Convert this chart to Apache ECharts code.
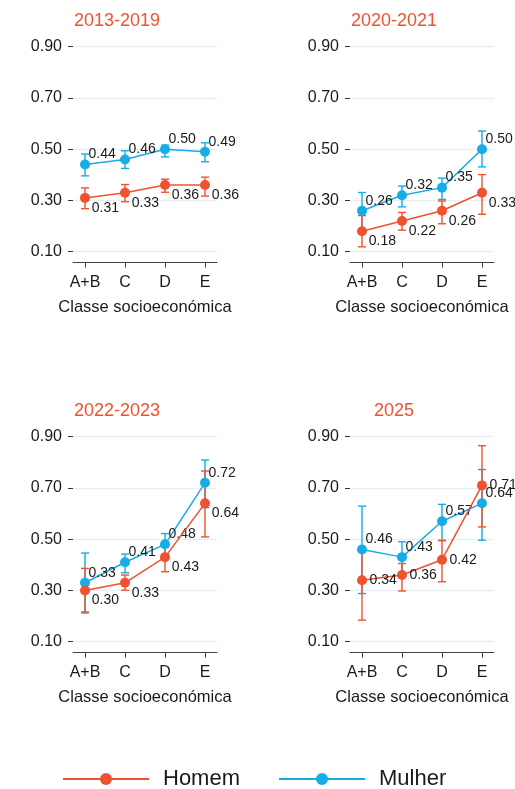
<!DOCTYPE html>
<html>
<head>
<meta charset="utf-8">
<script src="https://cdn.jsdelivr.net/npm/echarts@6/dist/echarts.min.js"></script>
<style>
html,body{margin:0;padding:0;background:#fff;}
#chart{width:515px;height:789px;}
</style>
</head>
<body>
<div id="chart"></div>
<script>
// ---- data ----
const categories = ['A+B', 'C', 'D', 'E'];
const yTicks = [0.10, 0.30, 0.50, 0.70, 0.90];
const panelTitles = ['2013-2019', '2020-2021', '2022-2023', '2025'];
const seriesNames = ['Homem', 'Mulher'];
const xAxisTitle = 'Classe socioeconómica';

// 2013-2019
const homem1   = [0.31, 0.33, 0.36, 0.36];
const homem1Lo = [0.268, 0.295, 0.332, 0.317];
const homem1Hi = [0.349, 0.362, 0.383, 0.391];
const mulher1   = [0.44, 0.46, 0.50, 0.49];
const mulher1Lo = [0.396, 0.425, 0.470, 0.451];
const mulher1Hi = [0.481, 0.494, 0.516, 0.525];
// 2020-2021
const homem2   = [0.18, 0.22, 0.26, 0.33];
const homem2Lo = [0.119, 0.184, 0.209, 0.246];
const homem2Hi = [0.241, 0.253, 0.298, 0.401];
const mulher2   = [0.26, 0.32, 0.35, 0.50];
const mulher2Lo = [0.175, 0.275, 0.304, 0.431];
const mulher2Hi = [0.331, 0.356, 0.387, 0.571];
// 2022-2023
const homem3   = [0.30, 0.33, 0.43, 0.64];
const homem3Lo = [0.216, 0.301, 0.373, 0.509];
const homem3Hi = [0.386, 0.360, 0.470, 0.766];
const mulher3   = [0.33, 0.41, 0.48, 0.72];
const mulher3Lo = [0.212, 0.369, 0.431, 0.623];
const mulher3Hi = [0.446, 0.442, 0.522, 0.809];
// 2025
const homem4   = [0.34, 0.36, 0.42, 0.71];
const homem4Lo = [0.184, 0.298, 0.334, 0.548];
const homem4Hi = [0.451, 0.405, 0.494, 0.865];
const mulher4   = [0.46, 0.43, 0.57, 0.64];
const mulher4Lo = [0.288, 0.366, 0.496, 0.496];
const mulher4Hi = [0.629, 0.490, 0.636, 0.772];

const panels = [
  {h: homem1, hLo: homem1Lo, hHi: homem1Hi, m: mulher1, mLo: mulher1Lo, mHi: mulher1Hi},
  {h: homem2, hLo: homem2Lo, hHi: homem2Hi, m: mulher2, mLo: mulher2Lo, mHi: mulher2Hi},
  {h: homem3, hLo: homem3Lo, hHi: homem3Hi, m: mulher3, mLo: mulher3Lo, mHi: mulher3Hi},
  {h: homem4, hLo: homem4Lo, hHi: homem4Hi, m: mulher4, mLo: mulher4Lo, mHi: mulher4Hi}
];

// ---- styling ----
const RED = '#F0522F';
const BLUE = '#16ACE6';
const FONT = '"Liberation Sans", Arial, Helvetica, sans-serif';
const TXT = '#1a1a1a';

const chart = echarts.init(document.getElementById('chart'), null, {renderer: 'canvas'});

const grids = [], xAxes = [], yAxes = [], series = [], graphics = [];

function errRender(color) {
  return function (params, api) {
    const x = api.value(0);
    const top = api.coord([x, api.value(2)]);
    const bot = api.coord([x, api.value(1)]);
    const hw = 4;
    const st = {stroke: color, lineWidth: 1.4};
    return {
      type: 'group',
      children: [
        {type: 'line', shape: {x1: top[0], y1: top[1], x2: bot[0], y2: bot[1]}, style: st},
        {type: 'line', shape: {x1: top[0] - hw, y1: top[1], x2: top[0] + hw, y2: top[1]}, style: st},
        {type: 'line', shape: {x1: bot[0] - hw, y1: bot[1], x2: bot[0] + hw, y2: bot[1]}, style: st}
      ]
    };
  };
}

panels.forEach((p, k) => {
  const col = k % 2, row = Math.floor(k / 2);
  const left = 73 + col * 277;
  const top = 46.7 + row * 390;
  grids.push({left: left, top: top, width: 144, height: 205, containLabel: false});
  xAxes.push({
    type: 'value', gridIndex: k, min: 0.7, max: 4.3, offset: 11,
    axisLine: {show: true, lineStyle: {color: '#444', width: 1}},
    axisTick: {show: true, length: 5, lineStyle: {color: '#444'}, customValues: categories.map((c, i) => i + 1)},
    axisLabel: {
      show: true, margin: 12, fontSize: 16, color: TXT, fontFamily: FONT,
      customValues: categories.map((c, i) => i + 1),
      formatter: v => categories[Math.round(v) - 1] || ''
    },
    splitLine: {show: false},
    name: xAxisTitle, nameLocation: 'middle', nameGap: 36,
    nameTextStyle: {fontSize: 16.5, color: TXT, fontFamily: FONT}
  });
  yAxes.push({
    type: 'value', gridIndex: k, min: yTicks[0], max: yTicks[yTicks.length - 1], interval: 0.2,
    axisLine: {show: false},
    axisTick: {show: true, length: 5, lineStyle: {color: '#333'}},
    axisLabel: {margin: 11, fontSize: 16, color: TXT, fontFamily: FONT, formatter: v => v.toFixed(2)},
    splitLine: {show: true, lineStyle: {color: '#e7eff2', width: 1.3}}
  });
  graphics.push({
    type: 'text', x: 117 + col * 277, y: 21.5 + row * 390,
    style: {text: panelTitles[k], fill: RED, font: '18px ' + FONT, textAlign: 'center', textVerticalAlign: 'middle'}
  });

  const mk = arr => arr.map((v, i) => [i + 1, v]);
  const mkErr = (lo, hi) => lo.map((v, i) => [i + 1, v, hi[i]]);

  series.push({
    type: 'custom', name: 'Mulher IC', xAxisIndex: k, yAxisIndex: k,
    renderItem: errRender(BLUE), data: mkErr(p.mLo, p.mHi), encode: {x: 0, y: [1, 2]}, z: 2, silent: true
  });
  series.push({
    type: 'custom', name: 'Homem IC', xAxisIndex: k, yAxisIndex: k,
    renderItem: errRender(RED), data: mkErr(p.hLo, p.hHi), encode: {x: 0, y: [1, 2]}, z: 2, silent: true
  });
  series.push({
    type: 'line', name: seriesNames[1], xAxisIndex: k, yAxisIndex: k, data: mk(p.m),
    color: BLUE, symbol: 'circle', symbolSize: 10, lineStyle: {width: 1.5, color: BLUE},
    itemStyle: {color: BLUE}, z: 3,
    label: {show: true, position: 'right', distance: 0, offset: [-1.5, -10],
      formatter: d => d.value[1].toFixed(2), fontSize: 14, color: TXT, fontFamily: FONT}
  });
  const redOffset = (k === 3) ? [2.5, 0] : [1.7, 10];
  series.push({
    type: 'line', name: seriesNames[0], xAxisIndex: k, yAxisIndex: k, data: mk(p.h),
    color: RED, symbol: 'circle', symbolSize: 10, lineStyle: {width: 1.5, color: RED},
    itemStyle: {color: RED}, z: 4,
    label: {show: true, position: 'right', distance: 0, offset: redOffset,
      formatter: d => d.value[1].toFixed(2), fontSize: 14, color: TXT, fontFamily: FONT}
  });
});

chart.setOption({
  backgroundColor: '#fff',
  animation: false,
  textStyle: {fontFamily: FONT},
  grid: grids,
  xAxis: xAxes,
  yAxis: yAxes,
  legend: {
    data: seriesNames,
    left: 57, top: 763,
    itemWidth: 86, itemHeight: 15, itemGap: 38,
    lineStyle: {width: 2},
    textStyle: {fontSize: 22, color: TXT, fontFamily: FONT, padding: [0, 0, 0, 9]}
  },
  graphic: graphics,
  series: series
});
</script>
</body>
</html>
